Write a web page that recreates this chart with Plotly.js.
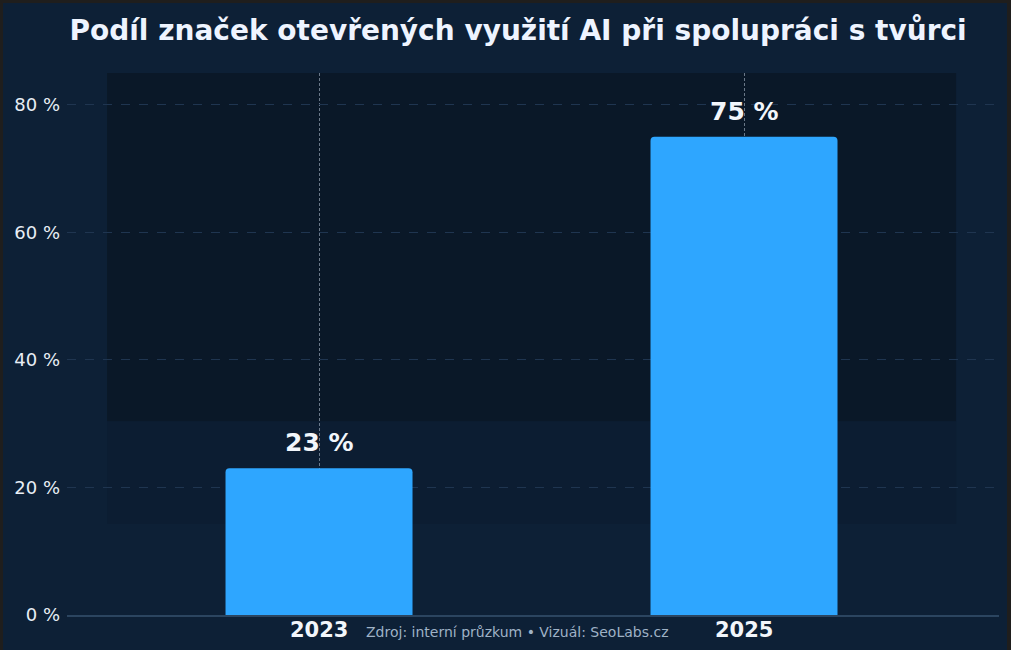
<!DOCTYPE html>
<html><head><meta charset="utf-8">
<script src="https://cdn.plot.ly/plotly-3.0.1.min.js"></script>
<style>
html,body{margin:0;padding:0;background:#1f1e1d;width:1011px;height:650px;overflow:hidden}
#chart{position:absolute;left:3px;top:3px;width:1004px;height:647px}
</style></head>
<body><div id="chart"></div>
<script>
const years = ["2023", "2025"];
const shares = [23, 75];
const valueLabels = ["23 %", "75 %"];
const yTicks = [0, 20, 40, 60, 80];
const yTickLabels = ["0 %", "20 %", "40 %", "60 %", "80 %"];
const titleText = "Podíl značek otevřených využití AI při spolupráci s tvůrci";
const sourceText = "Zdroj: interní průzkum • Vizuál: SeoLabs.cz";

const trace = {
  type: "bar",
  x: years,
  y: shares,
  marker: {color: "#2ea6ff", line: {width: 0}, cornerradius: 4},
  width: 0.44,
  hoverinfo: "skip"
};

// category axis: annotation x given as category index
const valueAnnotations = years.map((yr, i) => ({
  text: "<b>" + valueLabels[i] + "</b>", x: i, y: shares[i], xref: "x", yref: "y",
  yanchor: "bottom", xanchor: "center", yshift: 9, showarrow: false,
  font: {family: "DejaVu Sans", size: 25, color: "#f2f6fb"}
}));
const yearAnnotations = years.map((yr, i) => ({
  text: "<b>" + yr + "</b>", x: i, y: 0, xref: "x", yref: "paper",
  yanchor: "middle", xanchor: "center", yshift: -15, showarrow: false,
  font: {family: "DejaVu Sans", size: 21, color: "#f2f6fb"}
}));

const layout = {
  width: 1004, height: 647,
  paper_bgcolor: "#0d2036",
  plot_bgcolor: "rgba(0,0,0,0)",
  margin: {l: 64, r: 8, t: 70, b: 35},
  showlegend: false,
  font: {family: "DejaVu Sans", color: "#e8eef5"},
  title: {text: "<b>" + titleText + "</b>", x: 0.513, xanchor: "center", y: 0.958, yanchor: "middle",
          font: {family: "DejaVu Sans", size: 28, color: "#eef4ff"}},
  xaxis: {
    type: "category",
    range: [-0.593, 1.6],
    showgrid: true, gridcolor: "rgba(170,185,200,0.6)", griddash: "3px,2px", gridwidth: 1,
    showline: true, linecolor: "#2b4560", linewidth: 2,
    ticks: "", showticklabels: false,
    zeroline: false, fixedrange: true
  },
  yaxis: {
    range: [0, 85],
    tickvals: yTicks, ticktext: yTickLabels,
    showgrid: true, gridcolor: "#1f3550", griddash: "dash", gridwidth: 1,
    zeroline: false, showline: false, ticks: "",
    ticklabelstandoff: 6,
    tickfont: {family: "DejaVu Sans", size: 18, color: "#e8eef5"},
    fixedrange: true
  },
  shapes: [
    {type: "rect", layer: "below", xref: "paper", yref: "y", x0: 0.043, x1: 0.954, y0: 30.4, y1: 85,
     fillcolor: "#0a1726", opacity: 0.85, line: {width: 0}},
    {type: "rect", layer: "below", xref: "paper", yref: "y", x0: 0.043, x1: 0.954, y0: 14.3, y1: 30.4,
     fillcolor: "#0b1c30", opacity: 0.6, line: {width: 0}}
  ],
  annotations: valueAnnotations.concat(yearAnnotations, [
    {text: sourceText, xref: "paper", yref: "paper", x: 0.483, y: 0, yshift: -17, xanchor: "center", yanchor: "middle",
     showarrow: false, font: {family: "DejaVu Sans", size: 14, color: "#9fb2c6"}}
  ])
};

Plotly.newPlot("chart", [trace], layout, {displayModeBar: false, staticPlot: true});
</script></body></html>
